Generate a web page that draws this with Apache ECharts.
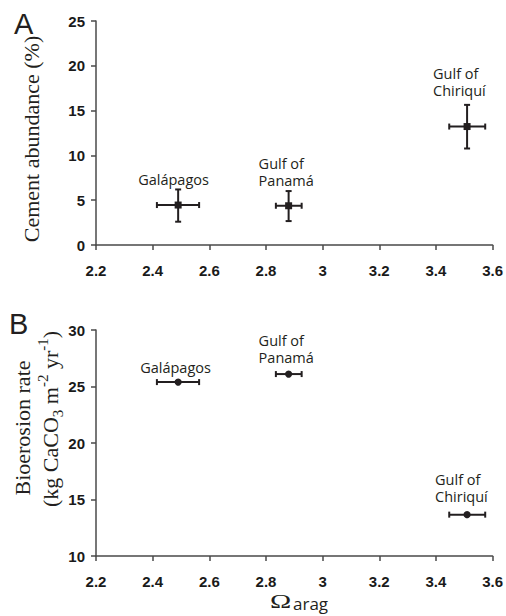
<!DOCTYPE html>
<html>
<head>
<meta charset="utf-8">
<script src="https://cdn.jsdelivr.net/npm/echarts@6/dist/echarts.min.js"></script>
<style>
html,body{margin:0;padding:0;background:#fff;}
#chart{width:506px;height:616px;}
</style>
</head>
<body>
<div id="chart"></div>
<script>
// ---- Data ----
const sites = ['Galápagos', 'Gulf of\nPanamá', 'Gulf of\nChiriquí'];
const omegaArag = [2.49, 2.88, 3.51];
const omegaLow = [2.415, 2.835, 3.447];
const omegaHigh = [2.564, 2.926, 3.574];
const cementAbundance = [4.46, 4.38, 13.22];
const cementLow = [2.6, 2.67, 10.77];
const cementHigh = [6.2, 6.02, 15.64];
const bioerosionRate = [25.39, 26.1, 13.66];
const xTickLabels = ['2.2', '2.4', '2.6', '2.8', '3', '3.2', '3.4', '3.6'];
const yTickLabelsA = ['0', '5', '10', '15', '20', '25'];
const yTickLabelsB = ['10', '15', '20', '25', '30'];

// ---- Layout (label offsets in px, relative to the point) ----
const labelOffsetA = [[-40, -26], [-30, -34], [-34, -45]];
const labelOffsetB = [[-38, -15], [-30, -25], [-32, -27]];

const INK = '#231f20';
const AXIS = '#4a4a4a';
const tickFont = "'Liberation Sans Narrow', 'Arial Narrow', 'Liberation Sans', Arial, sans-serif";
const labelFont = "'Open Sans', 'Noto Sans', sans-serif";
const serif = "'Liberation Serif', 'Times New Roman', serif";
const LINE_H = 17;

const dataA = sites.map((s, i) => [omegaArag[i], cementAbundance[i], omegaLow[i], omegaHigh[i], cementLow[i], cementHigh[i]]);
const dataB = sites.map((s, i) => [omegaArag[i], bioerosionRate[i], omegaLow[i], omegaHigh[i]]);

function line(x1, y1, x2, y2) {
  return { type: 'line', shape: { x1, y1, x2, y2 }, style: { stroke: INK, lineWidth: 2 } };
}
function labelEls(text, c, off) {
  const parts = text.split('\n');
  const y0 = c[1] + off[1] - (parts.length - 1) * LINE_H / 2;
  return parts.map((p, k) => ({
    type: 'text',
    style: {
      text: p, x: c[0] + off[0], y: y0 + k * LINE_H,
      fill: INK, fontSize: 14.5, fontFamily: labelFont,
      align: 'left', verticalAlign: 'middle', textAlign: 'left', textVerticalAlign: 'middle'
    }
  }));
}
const CAP = 3;

function renderA(params, api) {
  const i = params.dataIndex;
  const x = api.value(0), y = api.value(1);
  const c = api.coord([x, y]);
  const l = api.coord([api.value(2), y]);
  const r = api.coord([api.value(3), y]);
  const b = api.coord([x, api.value(4)]);
  const t = api.coord([x, api.value(5)]);
  return {
    type: 'group',
    children: [
      line(l[0], l[1], r[0], r[1]),
      line(l[0], l[1] - CAP, l[0], l[1] + CAP),
      line(r[0], r[1] - CAP, r[0], r[1] + CAP),
      line(b[0], b[1], t[0], t[1]),
      line(b[0] - CAP, b[1], b[0] + CAP, b[1]),
      line(t[0] - CAP, t[1], t[0] + CAP, t[1]),
      { type: 'rect', shape: { x: c[0] - 3.5, y: c[1] - 3.5, width: 7, height: 7 }, style: { fill: INK } }
    ].concat(labelEls(sites[i], c, labelOffsetA[i]))
  };
}
function renderB(params, api) {
  const i = params.dataIndex;
  const x = api.value(0), y = api.value(1);
  const c = api.coord([x, y]);
  const l = api.coord([api.value(2), y]);
  const r = api.coord([api.value(3), y]);
  return {
    type: 'group',
    children: [
      line(l[0], l[1], r[0], r[1]),
      line(l[0], l[1] - CAP, l[0], l[1] + CAP),
      line(r[0], r[1] - CAP, r[0], r[1] + CAP),
      { type: 'circle', shape: { cx: c[0], cy: c[1], r: 3.6 }, style: { fill: INK } }
    ].concat(labelEls(sites[i], c, labelOffsetB[i]))
  };
}

function xAxis(gridIndex) {
  return {
    type: 'value', gridIndex, min: 2.2, max: 3.6, interval: 0.2,
    axisLine: { show: true, onZero: false, lineStyle: { color: AXIS, width: 1.5 } },
    axisTick: { show: true, inside: false, length: 5, lineStyle: { color: AXIS, width: 1.5 } },
    splitLine: { show: false },
    axisLabel: {
      show: true, margin: 18, fontFamily: tickFont, fontWeight: 'bold', fontSize: 15, color: '#1a1a1a',
      showMinLabel: true, showMaxLabel: true,
      formatter: (v, idx) => xTickLabels[idx]
    }
  };
}
function yAxis(gridIndex, min, max, labels) {
  return {
    type: 'value', gridIndex, min, max, interval: 5,
    axisLine: { show: true, onZero: false, lineStyle: { color: AXIS, width: 1.5 } },
    axisTick: { show: true, inside: false, length: 5, lineStyle: { color: AXIS, width: 1.5 } },
    splitLine: { show: false },
    axisLabel: {
      show: true, margin: 11, fontFamily: tickFont, fontWeight: 'bold', fontSize: 15, color: '#1a1a1a',
      showMinLabel: true, showMaxLabel: true,
      formatter: (v, idx) => labels[idx]
    }
  };
}

const chart = echarts.init(document.getElementById('chart'), null, { renderer: 'svg' });
chart.setOption({
  animation: false,
  backgroundColor: '#fff',
  grid: [
    { left: 96, right: 12, top: 21, height: 224 },
    { left: 96, right: 12, top: 330, height: 226 }
  ],
  xAxis: [xAxis(0), xAxis(1)],
  yAxis: [yAxis(0, 0, 25, yTickLabelsA), yAxis(1, 10, 30, yTickLabelsB)],
  series: [
    { type: 'custom', xAxisIndex: 0, yAxisIndex: 0, renderItem: renderA, data: dataA, clip: false },
    { type: 'custom', xAxisIndex: 1, yAxisIndex: 1, renderItem: renderB, data: dataB, clip: false }
  ],
  graphic: [
    { type: 'text', x: 14, y: 24, style: { text: 'A', fill: INK, fontSize: 29, fontFamily: "'Liberation Sans', Arial, sans-serif", textAlign: 'left', textVerticalAlign: 'middle', align: 'left', verticalAlign: 'middle' } },
    { type: 'text', x: 9, y: 324, style: { text: 'B', fill: INK, fontSize: 29, fontFamily: "'Liberation Sans', Arial, sans-serif", textAlign: 'left', textVerticalAlign: 'middle', align: 'left', verticalAlign: 'middle' } },
    { type: 'text', x: 31, y: 139, rotation: Math.PI / 2,
      style: { text: 'Cement abundance (%)', fill: INK, fontSize: 22, fontFamily: serif, textAlign: 'center', textVerticalAlign: 'middle', align: 'center', verticalAlign: 'middle' } },
    { type: 'text', x: 22, y: 428, rotation: Math.PI / 2,
      style: { text: 'Bioerosion rate', fill: INK, fontSize: 22, fontFamily: serif, textAlign: 'center', textVerticalAlign: 'middle', align: 'center', verticalAlign: 'middle' } },
    { type: 'text', x: 50, y: 419, rotation: Math.PI / 2,
      style: {
        text: '{n|(kg CaCO}{sub|3}{n| m}{sup|-2}{n| yr}{sup|-1}{n|)}',
        fill: INK, textAlign: 'center', textVerticalAlign: 'middle', align: 'center', verticalAlign: 'middle',
        rich: {
          n: { fontFamily: serif, fontSize: 22, lineHeight: 30, verticalAlign: 'middle', fill: INK },
          sub: { fontFamily: serif, fontSize: 15, lineHeight: 30, verticalAlign: 'bottom', fill: INK },
          sup: { fontFamily: serif, fontSize: 15, lineHeight: 30, verticalAlign: 'top', fill: INK }
        }
      } },
    { type: 'text', x: 270, y: 601, scaleX: 1.3, scaleY: 0.85,
      style: { text: 'Ω', fill: INK, fontSize: 22, fontFamily: serif, textAlign: 'left', textVerticalAlign: 'middle', align: 'left', verticalAlign: 'middle' } },
    { type: 'text', x: 293, y: 603,
      style: { text: 'arag', fill: INK, fontSize: 17, fontFamily: labelFont, textAlign: 'left', textVerticalAlign: 'middle', align: 'left', verticalAlign: 'middle' } }
  ]
});
</script>
</body>
</html>
